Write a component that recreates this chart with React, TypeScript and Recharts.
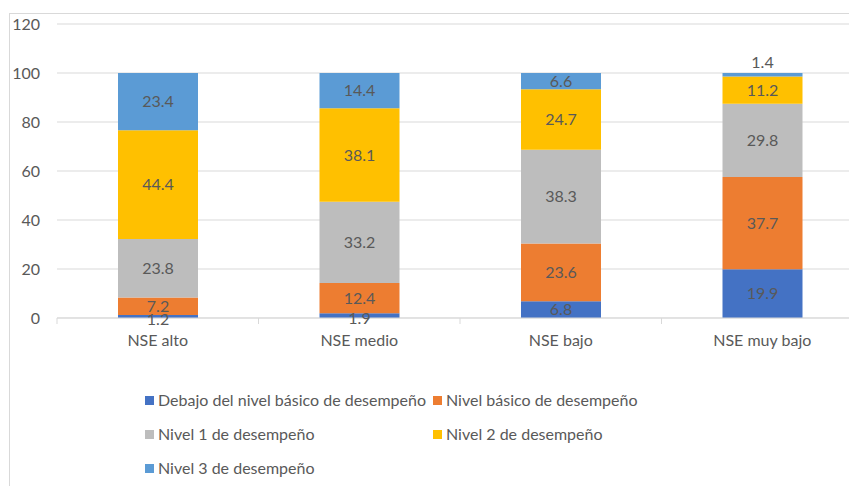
import React from "react";
import { BarChart, Bar, XAxis, YAxis, CartesianGrid, LabelList, Legend } from "recharts";

const categories = ["NSE alto", "NSE medio", "NSE bajo", "NSE muy bajo"];
const debajo = [1.2, 1.9, 6.8, 19.9];
const basico = [7.2, 12.4, 23.6, 37.7];
const nivel1 = [23.8, 33.2, 38.3, 29.8];
const nivel2 = [44.4, 38.1, 24.7, 11.2];
const nivel3 = [23.4, 14.4, 6.6, 1.4];
const yTicks = [0, 20, 40, 60, 80, 100, 120];

const seriesNames = [
  "Debajo del nivel básico de desempeño",
  "Nivel básico de desempeño",
  "Nivel 1 de desempeño",
  "Nivel 2 de desempeño",
  "Nivel 3 de desempeño",
];
const colors = ["#4472C4", "#ED7D31", "#BDBDBD", "#FFC000", "#5B9BD5"];
const keys = ["debajo", "basico", "nivel1", "nivel2", "nivel3"];

const data = categories.map((c, i) => ({
  name: c,
  debajo: debajo[i],
  basico: basico[i],
  nivel1: nivel1[i],
  nivel2: nivel2[i],
  nivel3: nivel3[i],
}));

const FONT = "Lato, 'Liberation Sans', Arial, sans-serif";
const FS = 16;
const TXT = "#595959";
const GRID = "#D9D9D9";

const CHART_W = 900;
const CHART_H = 486;
const M_LEFT = 0;
const M_RIGHT = 37;
const Y_W = 57;
const BAND = (CHART_W - M_LEFT - M_RIGHT - Y_W) / categories.length;

const XTick = (props: any) => {
  const { x, y, payload, index } = props;
  const left = x - BAND / 2;
  return (
    <g>
      <line x1={left} x2={left} y1={y - 8} y2={y - 2} stroke={GRID} strokeWidth={1} />
      {index === categories.length - 1 && (
        <line x1={x + BAND / 2} x2={x + BAND / 2} y1={y - 8} y2={y - 2} stroke={GRID} />
      )}
      <text x={x} y={y + 20} textAnchor="middle" fill={TXT} fontSize={FS} fontFamily={FONT}>
        {payload.value}
      </text>
    </g>
  );
};

const makeLabel = (seriesIndex: number) => (props: any) => {
  const { x, y, width, height, value } = props;
  let cy = y + height / 2;
  if (Math.abs(height) < 6) {
    if (seriesIndex === keys.length - 1) cy = y - 11;
    else if (seriesIndex === 0) cy = y + height / 2 + 3;
  }
  return (
    <text
      x={x + width / 2}
      y={cy}
      dy="0.35em"
      textAnchor="middle"
      fill={TXT}
      fontSize={FS}
      fontFamily={FONT}
    >
      {value}
    </text>
  );
};

const LegendContent = () => (
  <div
    style={{
      height: 130,
      paddingTop: 43,
      paddingLeft: 145,
      boxSizing: "border-box",
      fontFamily: FONT,
      fontSize: FS,
      color: TXT,
    }}
  >
    {[0, 2, 4].map((start) => (
      <div key={start} style={{ display: "flex", height: 34, alignItems: "flex-start" }}>
        {[start, start + 1]
          .filter((k) => k < seriesNames.length)
          .map((k) => (
            <div key={k} style={{ width: 288, display: "flex", alignItems: "center", lineHeight: "18px" }}>
              <span
                style={{
                  display: "inline-block",
                  width: 9,
                  height: 9,
                  background: colors[k],
                  marginRight: 4,
                }}
              />
              <span>{seriesNames[k]}</span>
            </div>
          ))}
      </div>
    ))}
  </div>
);

export default function App() {
  return (
    <div
      style={{
        position: "absolute",
        left: 0,
        top: 0,
        width: 849,
        height: 486,
        overflow: "hidden",
        background: "#fff",
      }}
    >
      <div
        style={{
          position: "absolute",
          left: 9,
          top: 13,
          width: 900,
          height: 500,
          borderLeft: `1px solid ${GRID}`,
          borderTop: `1px solid ${GRID}`,
        }}
      />
      <div style={{ position: "absolute", left: 0, top: 0 }}>
        <BarChart
          width={CHART_W}
          height={CHART_H}
          data={data}
          margin={{ top: 24, right: M_RIGHT, left: M_LEFT, bottom: 8 }}
          barSize={80}
        >
          <CartesianGrid vertical={false} stroke={GRID} strokeWidth={1} />
          <XAxis
            dataKey="name"
            axisLine={{ stroke: GRID }}
            tickLine={false}
            height={30}
            tick={<XTick />}
            interval={0}
          />
          <YAxis
            domain={[0, 120]}
            ticks={yTicks}
            width={Y_W}
            axisLine={false}
            tickLine={false}
            tickMargin={11}
            tick={{ fill: TXT, fontSize: FS, fontFamily: FONT }}
          />
          <Legend verticalAlign="bottom" content={<LegendContent />} wrapperStyle={{ left: 0, width: 849 }} />
          {keys.map((k, i) => (
            <Bar key={k} dataKey={k} name={seriesNames[i]} stackId="a" fill={colors[i]} isAnimationActive={false}>
              <LabelList dataKey={k} content={makeLabel(i)} />
            </Bar>
          ))}
        </BarChart>
      </div>
    </div>
  );
}
